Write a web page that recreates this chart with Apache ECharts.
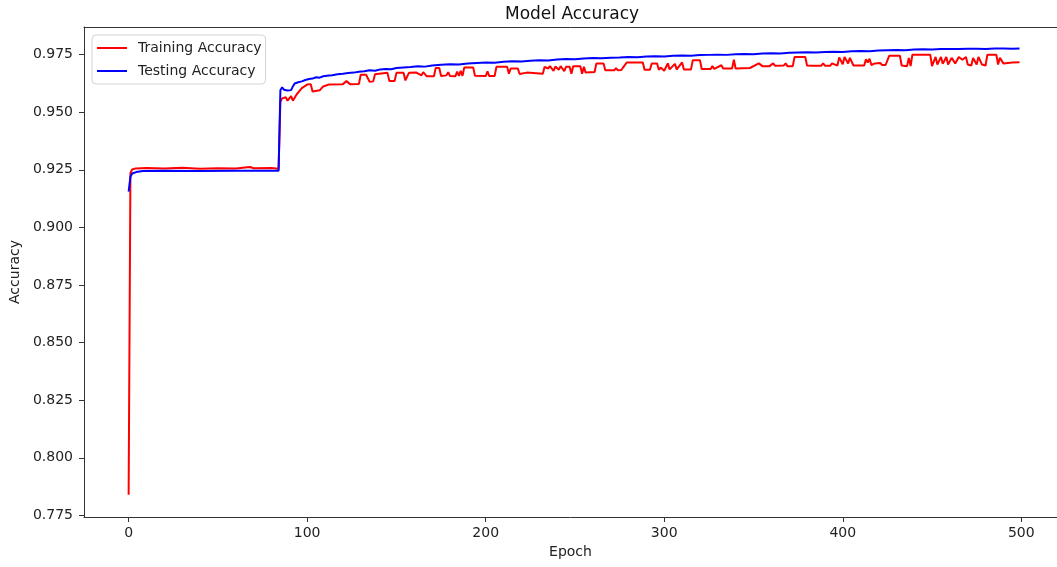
<!DOCTYPE html>
<html>
<head>
<meta charset="utf-8">
<title>Model Accuracy</title>
<script src="https://cdn.jsdelivr.net/npm/echarts@6/dist/echarts.min.js"></script>
<style>
  html, body { margin: 0; padding: 0; background: #fff; }
  #chart { width: 1057px; height: 567px; }
</style>
</head>
<body>
<div id="chart"></div>
<script>
// epochs / values (train = red, test = blue)
var trainEpochs = [0, 1, 2, 4, 10, 20, 30, 40, 50, 60, 68, 70, 80, 84,
  85, 86, 88, 89, 91, 92, 94, 97, 100, 102, 103, 107, 109, 112, 120, 122, 124, 129,
  130, 133, 135, 137, 138, 139, 145, 146, 149, 150, 154, 155, 156, 157, 161, 162, 164, 165, 167, 171,
  172, 174, 175, 178, 179, 180, 183, 184, 185, 186, 187, 188, 193, 194, 200, 201, 202, 205,
  206, 212, 213, 214, 218, 219, 223, 224, 232, 233, 235, 236, 238, 239, 241, 242, 244, 245, 247,
  248, 249, 253, 254, 255, 256, 261, 262, 266, 267, 272, 273, 274, 276, 277, 279, 288, 289,
  292, 293, 296, 297, 298, 300, 302, 303, 304, 306, 307, 308, 310, 311, 315, 316, 320, 321,
  326, 327, 328, 332, 333, 338, 339, 340, 348, 349, 353, 355, 359, 361, 362, 367, 368, 369,
  372, 373, 379, 380, 383, 384, 385, 388, 389, 390, 393, 394, 397, 398, 399, 400, 401, 402,
  403, 404, 406, 412, 413, 414, 415, 416, 418, 419, 421, 422, 424, 426, 432, 433, 436, 437,
  438, 439, 449, 450, 451, 452, 453, 455, 456, 458, 459, 461, 463, 465, 467, 469, 470, 472,
  473, 475, 476, 478, 480, 481, 486, 487, 488, 489, 490, 491, 495, 499];
var trainAcc = [0.7840, 0.9235, 0.9252, 0.9256, 0.9258, 0.9256, 0.9259, 0.9255, 0.9257, 0.9256, 0.9262, 0.9257, 0.9258, 0.9255,
  0.9545, 0.9560, 0.9565, 0.9550, 0.9570, 0.9550, 0.9576, 0.9605, 0.9620, 0.9622, 0.9590, 0.9595, 0.9612, 0.9620, 0.9622, 0.9635, 0.9622, 0.9623,
  0.9663, 0.9663, 0.9632, 0.9634, 0.9665, 0.9671, 0.9671, 0.9636, 0.9636, 0.9671, 0.9671, 0.9638, 0.9638, 0.9671, 0.9673, 0.9676, 0.9660, 0.9674, 0.9656, 0.9656,
  0.9692, 0.9692, 0.9657, 0.9660, 0.9674, 0.9657, 0.9656, 0.9676, 0.9658, 0.9680, 0.9658, 0.9694, 0.9694, 0.9658, 0.9657, 0.9678, 0.9657, 0.9657,
  0.9697, 0.9697, 0.9667, 0.9690, 0.9690, 0.9666, 0.9672, 0.9666, 0.9667, 0.9697, 0.9690, 0.9700, 0.9680, 0.9698, 0.9685, 0.9700, 0.9678, 0.9697, 0.9697,
  0.9667, 0.9700, 0.9700, 0.9667, 0.9697, 0.9672, 0.9675, 0.9712, 0.9712, 0.9682, 0.9682, 0.9692, 0.9682, 0.9683, 0.9695, 0.9716, 0.9716, 0.9684,
  0.9684, 0.9712, 0.9712, 0.9684, 0.9694, 0.9680, 0.9712, 0.9686, 0.9684, 0.9710, 0.9686, 0.9686, 0.9716, 0.9686, 0.9686, 0.9726, 0.9726, 0.9688,
  0.9688, 0.9700, 0.9688, 0.9704, 0.9690, 0.9690, 0.9728, 0.9690, 0.9692, 0.9700, 0.9712, 0.9700, 0.9700, 0.9712, 0.9702, 0.9703, 0.9712, 0.9700,
  0.9700, 0.9740, 0.9740, 0.9703, 0.9702, 0.9710, 0.9702, 0.9702, 0.9712, 0.9702, 0.9702, 0.9712, 0.9702, 0.9738, 0.9740, 0.9708, 0.9740, 0.9738,
  0.9712, 0.9736, 0.9703, 0.9703, 0.9730, 0.9716, 0.9732, 0.9705, 0.9712, 0.9705, 0.9714, 0.9705, 0.9705, 0.9745, 0.9745, 0.9703, 0.9700, 0.9736,
  0.9700, 0.9750, 0.9750, 0.9700, 0.9700, 0.9740, 0.9707, 0.9740, 0.9710, 0.9740, 0.9707, 0.9736, 0.9712, 0.9740, 0.9728, 0.9740, 0.9707, 0.9703,
  0.9736, 0.9707, 0.9740, 0.9707, 0.9703, 0.9750, 0.9750, 0.9707, 0.9736, 0.9736, 0.9712, 0.9717, 0.9716, 0.9717];

var testEpochs = [0, 1, 2, 3, 5, 8, 20, 40, 60, 84,
  85, 86, 87, 88, 89, 90, 91, 92, 93, 95, 97, 99, 101, 103, 105, 107, 109, 111, 114, 117,
  120, 123, 126, 129, 132, 135, 138, 141, 144, 147, 150, 154, 158, 162, 166, 170, 175, 180, 185, 190,
  195, 200, 205, 210, 215, 220, 225, 230, 235, 240, 245, 250, 255, 260, 265, 270, 275, 280, 285, 290,
  295, 300, 305, 310, 315, 320, 325, 330, 335, 340, 345, 350, 355, 360, 365, 370, 375, 380, 385, 390,
  395, 400, 405, 410, 415, 420, 425, 430, 435, 440, 445, 450, 455, 460, 465, 470, 475, 480, 485, 490,
  495, 499];
var testAcc = [0.9155, 0.9220, 0.9234, 0.9238, 0.9242, 0.9245, 0.9246, 0.9245, 0.9246, 0.9246,
  0.9595, 0.9608, 0.9598, 0.9606, 0.9594, 0.9590, 0.9596, 0.9612, 0.9625, 0.9630, 0.9634, 0.9640, 0.9644, 0.9646, 0.9652, 0.9650, 0.9656, 0.9658, 0.9661, 0.9665,
  0.9667, 0.9670, 0.9672, 0.9676, 0.9678, 0.9682, 0.9680, 0.9686, 0.9688, 0.9687, 0.9692, 0.9694, 0.9696, 0.9700, 0.9698, 0.9703, 0.9706, 0.9708, 0.9707, 0.9712,
  0.9714, 0.9716, 0.9715, 0.9719, 0.9721, 0.9720, 0.9724, 0.9726, 0.9725, 0.9729, 0.9731, 0.9730, 0.9733, 0.9735, 0.9734, 0.9737, 0.9738, 0.9740, 0.9739, 0.9742,
  0.9743, 0.9742, 0.9745, 0.9746, 0.9745, 0.9748, 0.9749, 0.9750, 0.9749, 0.9752, 0.9753, 0.9752, 0.9755, 0.9756, 0.9755, 0.9758, 0.9759, 0.9760, 0.9759, 0.9762,
  0.9763, 0.9762, 0.9765, 0.9766, 0.9765, 0.9768, 0.9769, 0.9770, 0.9769, 0.9772, 0.9773, 0.9772, 0.9774, 0.9775, 0.9774, 0.9776, 0.9776, 0.9775, 0.9777, 0.9777,
  0.9776, 0.9777];

var xTicks = [0, 100, 200, 300, 400, 500];
var yTicks = [0.775, 0.8, 0.825, 0.85, 0.875, 0.9, 0.925, 0.95, 0.975];

function pairs(xs, ys) {
  var out = [];
  for (var i = 0; i < xs.length; i++) {
    out.push([xs[i], ys[i]]);
  }
  return out;
}

var font = 'DejaVu Sans';
var frame = { show: true, onZero: false, lineStyle: { color: '#333', width: 1 } };
var chart = echarts.init(document.getElementById('chart'));

var option = {
  animation: false,
  backgroundColor: '#fff',
  textStyle: { fontFamily: font },
  title: {
    text: 'Model Accuracy',
    left: 505,
    top: 6,
    padding: 0,
    textStyle: { fontFamily: font, fontSize: 17, fontWeight: 'normal', color: '#111' }
  },
  legend: {
    left: 92,
    top: 35,
    orient: 'vertical',
    icon: 'rect',
    itemWidth: 30,
    itemHeight: 2,
    itemGap: 7,
    padding: [5, 4, 5, 5],
    borderColor: '#d4d4d4',
    borderWidth: 1,
    borderRadius: 4,
    backgroundColor: 'rgba(255,255,255,0.8)',
    textStyle: { fontFamily: font, fontSize: 14, lineHeight: 16, color: '#222', padding: [0, 0, 0, 6] },
    data: ['Training Accuracy', 'Testing Accuracy']
  },
  grid: {
    left: 84,
    right: 0,
    top: 27,
    bottom: 50
  },
  xAxis: [
    {
      type: 'value',
      min: -25,
      max: 520,
      name: 'Epoch',
      nameLocation: 'middle',
      nameGap: 28,
      nameTextStyle: { fontFamily: font, fontSize: 14, color: '#222' },
      axisLine: frame,
      axisTick: { show: true, length: 5, customValues: xTicks, lineStyle: { color: '#333' } },
      axisLabel: { customValues: xTicks, margin: 9, fontFamily: font, fontSize: 14, color: '#222' },
      splitLine: { show: false }
    },
    {
      // top frame line only
      type: 'value',
      position: 'top',
      min: -25,
      max: 520,
      axisLine: frame,
      axisTick: { show: false },
      axisLabel: { show: false },
      splitLine: { show: false }
    }
  ],
  yAxis: {
    type: 'value',
    min: 0.7743,
    max: 0.987,
    name: 'Accuracy',
    nameLocation: 'middle',
    nameGap: 56,
    nameTextStyle: { fontFamily: font, fontSize: 14, color: '#222' },
    axisLine: frame,
    axisTick: { show: true, length: 5, customValues: yTicks, lineStyle: { color: '#333' } },
    axisLabel: {
      customValues: yTicks,
      margin: 11,
      fontFamily: font,
      fontSize: 14,
      color: '#222',
      formatter: function (v) { return v.toFixed(3); }
    },
    splitLine: { show: false }
  },
  series: [
    {
      name: 'Training Accuracy',
      type: 'line',
      symbol: 'none',
      showSymbol: false,
      color: '#ff0000',
      lineStyle: { color: '#ff0000', width: 2 },
      data: pairs(trainEpochs, trainAcc)
    },
    {
      name: 'Testing Accuracy',
      type: 'line',
      symbol: 'none',
      showSymbol: false,
      color: '#0000ff',
      lineStyle: { color: '#0000ff', width: 2 },
      data: pairs(testEpochs, testAcc)
    }
  ]
};

chart.setOption(option);
</script>
</body>
</html>
